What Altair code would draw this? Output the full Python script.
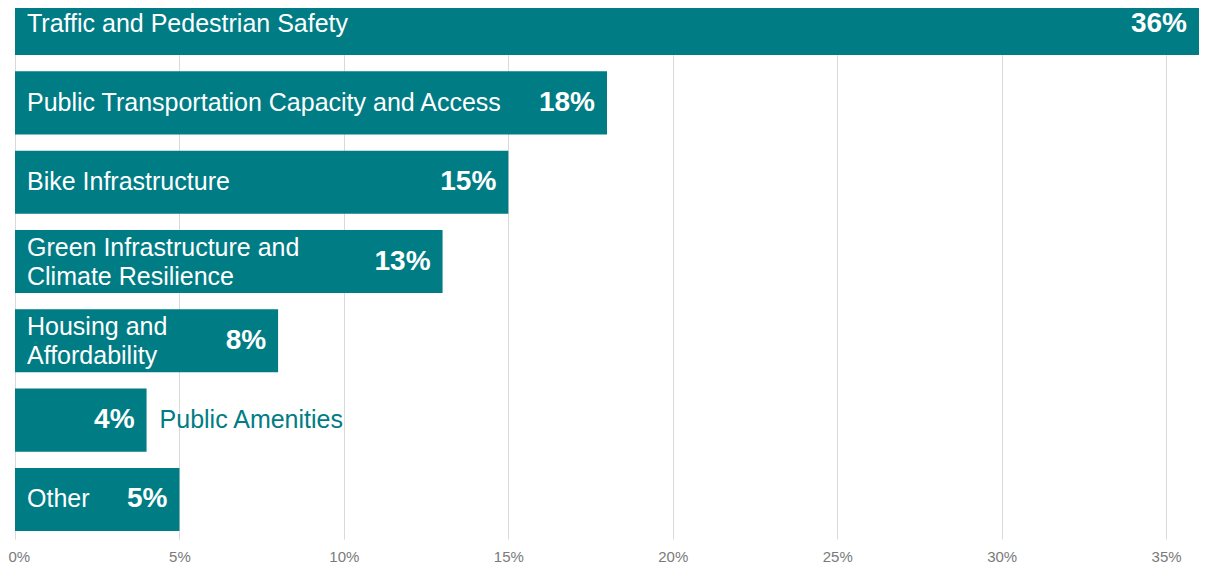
import altair as alt
import pandas as pd

categories = [
    "Traffic and Pedestrian Safety",
    "Public Transportation Capacity and Access",
    "Bike Infrastructure",
    "Green Infrastructure and Climate Resilience",
    "Housing and Affordability",
    "Public Amenities",
    "Other",
]
line1 = [
    "Traffic and Pedestrian Safety",
    "Public Transportation Capacity and Access",
    "Bike Infrastructure",
    "Green Infrastructure and",
    "Housing and",
    "Public Amenities",
    "Other",
]
line2 = ["", "", "", "Climate Resilience", "Affordability", "", ""]
values = [36, 18, 15, 13, 8, 4, 5]
label_outside = [False, False, False, False, False, True, False]
tick_values = [0, 5, 10, 15, 20, 25, 30, 35]

TEAL = "#007C85"
FONT = "Liberation Sans"

df = pd.DataFrame({
    "category": categories,
    "line1": line1,
    "line2": line2,
    "value": values,
    "outside": label_outside,
})
df["pct"] = df["value"].astype(str) + "%"

y_enc = alt.Y(
    "category:N",
    sort=categories,
    axis=None,
    scale=alt.Scale(paddingInner=0.205, paddingOuter=0),
)
x_scale = alt.Scale(domain=[0, 36], nice=False, zero=True)

base = alt.Chart(df)

bars = base.mark_bar(color=TEAL, cornerRadius=0).encode(
    x=alt.X(
        "value:Q",
        scale=x_scale,
        axis=alt.Axis(
            values=tick_values,
            labelExpr="datum.value + '%'",
            grid=True,
            gridColor="#d9d9d9",
            gridWidth=1,
            domain=False,
            ticks=True,
            tickColor="#d9d9d9",
            tickSize=8,
            labelColor="#7a7a7a",
            labelFontSize=15,
            labelFont=FONT,
            labelPadding=10,
            labelFlush=False,
            labelAlign={"condition": {"test": "datum.value === 0", "value": "left"},
                        "value": "center"},
            labelOffset={"condition": {"test": "datum.value === 0", "value": -7},
                         "value": 0},
            title=None,
        ),
    ),
    y=y_enc,
)

label_style = dict(align="left", baseline="middle", dx=12, fontSize=25,
                   color="white", font=FONT)

single_labels = base.transform_filter(
    "!datum.outside && datum.line2 == ''"
).mark_text(**label_style).encode(
    x=alt.value(0), y=y_enc, text="line1:N",
)

first_lines = base.transform_filter(
    "!datum.outside && datum.line2 != ''"
).mark_text(dy=-14, **label_style).encode(
    x=alt.value(0), y=y_enc, text="line1:N",
)

second_lines = base.transform_filter(
    "!datum.outside && datum.line2 != ''"
).mark_text(dy=15, **label_style).encode(
    x=alt.value(0), y=y_enc, text="line2:N",
)

outside_labels = base.transform_filter("datum.outside").mark_text(
    align="left", baseline="middle", dx=13, fontSize=25,
    color=TEAL, font=FONT,
).encode(
    x=alt.X("value:Q", scale=x_scale),
    y=y_enc,
    text="line1:N",
)

value_labels = base.mark_text(
    align="right", baseline="middle", dx=-12, fontSize=28, fontWeight="bold",
    color="white", font=FONT,
).encode(
    x=alt.X("value:Q", scale=x_scale),
    y=y_enc,
    text="pct:N",
)

chart = alt.layer(
    bars, single_labels, first_lines, second_lines, outside_labels, value_labels
).properties(
    width=1184,
    height=539,
    background="white",
    autosize=alt.AutoSizeParams(type="none"),
    padding={"left": 7, "top": -16, "right": 5, "bottom": 35},
).configure_view(stroke=None)

chart.save("out.html", embed_options={"renderer": "svg", "actions": False})
